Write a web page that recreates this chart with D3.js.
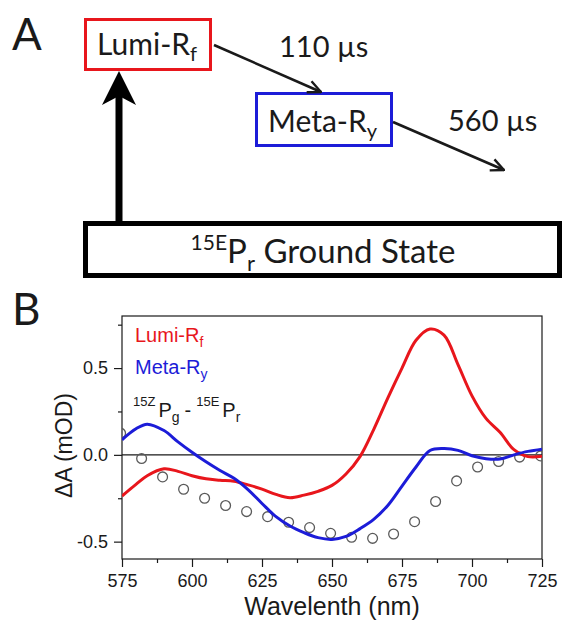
<!DOCTYPE html>
<html>
<head>
<meta charset="utf-8">
<script src="https://cdn.jsdelivr.net/npm/d3@7"></script>
<style>
  body { margin: 0; background: #fff; }
  svg { display: block; }
</style>
</head>
<body>
<div id="figure"></div>
<script>
// Spectra (nm, mOD)
const wavelengths = [575, 580, 584, 590, 595, 600, 605, 610, 615, 620, 625, 630, 635, 640, 645, 650,
  655, 660, 665, 670, 675, 680, 685, 690, 695, 700, 705, 710, 715, 720, 725];
const lumiRf = [-0.237, -0.17, -0.12, -0.08, -0.095, -0.12, -0.138, -0.146, -0.152, -0.173, -0.197, -0.228,
  -0.247, -0.232, -0.21, -0.176, -0.11, -0.01, 0.15, 0.33, 0.5, 0.66, 0.725, 0.69, 0.52, 0.34, 0.21,
  0.13, 0.03, -0.01, -0.008];
const metaRy = [0.087, 0.15, 0.177, 0.14, 0.075, 0.015, -0.04, -0.09, -0.135, -0.2, -0.28, -0.356,
  -0.41, -0.448, -0.477, -0.487, -0.47, -0.425, -0.37, -0.29, -0.18, -0.07, 0.025, 0.036, 0.026,
  -0.005, -0.022, -0.024, 0.0, 0.02, 0.033];

// Static difference spectrum 15ZPg - 15EPr (open circles)
const diffWavelengths = [574.5, 582, 589.5, 597, 604.5, 612, 619.5, 627, 634.5, 642, 649.5, 657,
  664.5, 672, 679.5, 687, 694.5, 702, 709.5, 717, 724.5];
const diffValues = [0.125, -0.021, -0.127, -0.198, -0.25, -0.292, -0.327, -0.356, -0.388, -0.419,
  -0.452, -0.475, -0.481, -0.456, -0.385, -0.269, -0.15, -0.07, -0.038, -0.013, -0.006];

// Axes
const xDomain = [575, 725];
const yDomain = [-0.6, 0.8];
const xTicks = [575, 600, 625, 650, 675, 700, 725];
const xMinorTicks = [587.5, 612.5, 637.5, 662.5, 687.5, 712.5];
const yTicks = [-0.5, 0.0, 0.5];
const yMinorTicks = [-0.25, 0.25, 0.75];

// Scheme labels for panel A
const lifetimes = ["110 µs", "560 µs"];

const red = "#e8161c";
const blue = "#1c1cd8";
const ink = "#1a1a1a";
const fontA = "Lato, 'Open Sans', sans-serif";
const fontB = "'Liberation Sans', Arial, sans-serif";

const width = 563, height = 622;

const svg = d3.select("#figure")
  .append("svg")
  .attr("width", width)
  .attr("height", height);

// ---------- Panel A: reaction scheme ----------
const schemeG = svg.append("g").attr("class", "scheme");

svg.append("defs").append("marker")
  .attr("id", "open-head")
  .attr("markerUnits", "userSpaceOnUse")
  .attr("viewBox", "0 0 16 16")
  .attr("refX", 15).attr("refY", 8)
  .attr("markerWidth", 16).attr("markerHeight", 16)
  .attr("orient", "auto")
  .append("path")
  .attr("d", "M2,2 L15,8 L2,14")
  .attr("fill", "none")
  .attr("stroke", ink)
  .attr("stroke-width", 2.4);

schemeG.append("text")
  .attr("x", 12).attr("y", 50)
  .attr("font-family", fontA).attr("font-size", 44)
  .attr("fill", ink)
  .text("A");

// Lumi-Rf box
schemeG.append("rect")
  .attr("x", 85.5).attr("y", 19.5).attr("width", 125).attr("height", 50)
  .attr("fill", "none").attr("stroke", red).attr("stroke-width", 3);
let t = schemeG.append("text")
  .attr("x", 97).attr("y", 55)
  .attr("font-family", fontA).attr("font-size", 30).attr("fill", ink);
t.append("tspan").text("Lumi-R");
t.append("tspan").attr("font-size", 20).attr("dy", 6).text("f");

// Meta-Ry box
schemeG.append("rect")
  .attr("x", 256.5).attr("y", 93.5).attr("width", 135).attr("height", 52)
  .attr("fill", "none").attr("stroke", blue).attr("stroke-width", 3);
t = schemeG.append("text")
  .attr("x", 268).attr("y", 132)
  .attr("font-family", fontA).attr("font-size", 30).attr("fill", ink);
t.append("tspan").text("Meta-R");
t.append("tspan").attr("font-size", 20).attr("dy", 6).text("y");

// Decay arrows and lifetimes
schemeG.append("line")
  .attr("x1", 214).attr("y1", 45).attr("x2", 321).attr("y2", 92)
  .attr("stroke", ink).attr("stroke-width", 2.6)
  .attr("marker-end", "url(#open-head)");
schemeG.append("line")
  .attr("x1", 393).attr("y1", 122).attr("x2", 504).attr("y2", 170)
  .attr("stroke", ink).attr("stroke-width", 2.6)
  .attr("marker-end", "url(#open-head)");
schemeG.append("text")
  .attr("x", 279).attr("y", 57)
  .attr("font-family", fontA).attr("font-size", 29).attr("fill", ink)
  .text(lifetimes[0]);
schemeG.append("text")
  .attr("x", 448).attr("y", 131)
  .attr("font-family", fontA).attr("font-size", 29).attr("fill", ink)
  .text(lifetimes[1]);

// Ground state box
schemeG.append("rect")
  .attr("x", 85.5).attr("y", 223.5).attr("width", 474).attr("height", 52)
  .attr("fill", "none").attr("stroke", "#000").attr("stroke-width", 5);
t = schemeG.append("text")
  .attr("x", 323).attr("y", 263)
  .attr("text-anchor", "middle")
  .attr("font-family", fontA).attr("font-size", 33).attr("fill", ink);
t.append("tspan").attr("font-size", 21).attr("dy", -13).text("15E");
t.append("tspan").attr("dy", 13).text("P");
t.append("tspan").attr("font-size", 22).attr("dy", 8).text("r");
t.append("tspan").attr("dy", -8).text(" Ground State");

// Excitation arrow
schemeG.append("line")
  .attr("x1", 119).attr("y1", 222).attr("x2", 119).attr("y2", 92)
  .attr("stroke", "#000").attr("stroke-width", 7);
schemeG.append("path")
  .attr("d", "M119,71 L136,105 L119,96 L102,105 Z")
  .attr("fill", "#000");

// ---------- Panel B: transient spectra ----------
const margin = { top: 316, left: 122 };
const chartWidth = 420;
const chartHeight = 243;

svg.append("text")
  .attr("x", 12).attr("y", 325)
  .attr("font-family", fontA).attr("font-size", 44)
  .attr("fill", ink)
  .text("B");

const chart = svg.append("g")
  .attr("class", "chart")
  .attr("transform", "translate(" + margin.left + "," + margin.top + ")");

const x = d3.scaleLinear().domain(xDomain).range([0, chartWidth]);
const y = d3.scaleLinear().domain(yDomain).range([chartHeight, 0]);

chart.append("clipPath").attr("id", "plot-clip")
  .append("rect").attr("width", chartWidth).attr("height", chartHeight);

// Minor ticks first, then the major ones with labels
chart.append("g")
  .attr("transform", "translate(0," + chartHeight + ")")
  .call(d3.axisBottom(x).tickValues(xMinorTicks).tickSize(4).tickFormat(""))
  .call(g => g.select(".domain").remove());
chart.append("g")
  .call(d3.axisLeft(y).tickValues(yMinorTicks).tickSize(4).tickFormat(""))
  .call(g => g.select(".domain").remove());

const xAxis = chart.append("g")
  .attr("class", "x-axis")
  .attr("transform", "translate(0," + chartHeight + ")")
  .call(d3.axisBottom(x).tickValues(xTicks).tickSize(8).tickPadding(7).tickFormat(d3.format("d")));
xAxis.select(".domain").remove();

const yAxis = chart.append("g")
  .attr("class", "y-axis")
  .call(d3.axisLeft(y).tickValues(yTicks).tickSize(8).tickPadding(6).tickFormat(d => d.toFixed(1)));
yAxis.select(".domain").remove();

chart.selectAll(".tick line").attr("stroke", ink).attr("stroke-width", 1.2);
chart.selectAll(".tick text")
  .attr("font-family", fontB).attr("font-size", 18).attr("fill", ink);

// Frame and zero line
chart.append("rect")
  .attr("width", chartWidth).attr("height", chartHeight)
  .attr("fill", "none").attr("stroke", ink).attr("stroke-width", 1.2);
chart.append("line")
  .attr("x1", 0).attr("x2", chartWidth)
  .attr("y1", y(0)).attr("y2", y(0))
  .attr("stroke", ink).attr("stroke-width", 1.2);

const plot = chart.append("g").attr("clip-path", "url(#plot-clip)");

// Open circles
plot.selectAll("circle")
  .data(diffWavelengths.map((w, i) => ({ w: w, v: diffValues[i] })))
  .join("circle")
  .attr("cx", d => x(d.w))
  .attr("cy", d => y(d.v))
  .attr("r", 4.9)
  .attr("fill", "none")
  .attr("stroke", "#5a5a5a")
  .attr("stroke-width", 1.3);

const valueLine = d3.line()
  .x(d => x(d[0]))
  .y(d => y(d[1]))
  .curve(d3.curveCatmullRom.alpha(0.5));

plot.append("path")
  .datum(wavelengths.map((w, i) => [w, lumiRf[i]]))
  .attr("fill", "none")
  .attr("stroke", red)
  .attr("stroke-width", 3)
  .attr("stroke-linejoin", "round")
  .attr("d", valueLine);

plot.append("path")
  .datum(wavelengths.map((w, i) => [w, metaRy[i]]))
  .attr("fill", "none")
  .attr("stroke", blue)
  .attr("stroke-width", 3)
  .attr("stroke-linejoin", "round")
  .attr("d", valueLine);

// Legend labels
t = chart.append("text")
  .attr("x", 13).attr("y", 26)
  .attr("font-family", fontB).attr("font-size", 20).attr("fill", red);
t.append("tspan").text("Lumi-R");
t.append("tspan").attr("font-size", 14).attr("dy", 5).text("f");

t = chart.append("text")
  .attr("x", 13).attr("y", 58)
  .attr("font-family", fontB).attr("font-size", 20).attr("fill", blue);
t.append("tspan").text("Meta-R");
t.append("tspan").attr("font-size", 14).attr("dy", 5).text("y");

t = chart.append("text")
  .attr("x", 11).attr("y", 101)
  .attr("font-family", fontB).attr("font-size", 20).attr("fill", ink);
t.append("tspan").attr("font-size", 13).attr("dy", -11).text("15Z");
t.append("tspan").attr("dx", 3).attr("dy", 11).text("P");
t.append("tspan").attr("font-size", 14).attr("dy", 5).text("g");
t.append("tspan").attr("dx", 5).attr("dy", -5).text("-");
t.append("tspan").attr("font-size", 13).attr("dx", 5).attr("dy", -11).text("15E");
t.append("tspan").attr("dx", 3).attr("dy", 11).text("P");
t.append("tspan").attr("font-size", 14).attr("dy", 5).text("r");

// Axis titles
chart.append("text")
  .attr("x", chartWidth / 2).attr("y", chartHeight + 56)
  .attr("text-anchor", "middle")
  .attr("font-family", fontB).attr("font-size", 25).attr("fill", ink)
  .text("Wavelenth (nm)");

chart.append("text")
  .attr("transform", "translate(-50," + (chartHeight / 2 + 8) + ") rotate(-90)")
  .attr("text-anchor", "middle")
  .attr("font-family", fontB).attr("font-size", 23).attr("fill", ink)
  .text("ΔA (mOD)");
</script>
</body>
</html>
